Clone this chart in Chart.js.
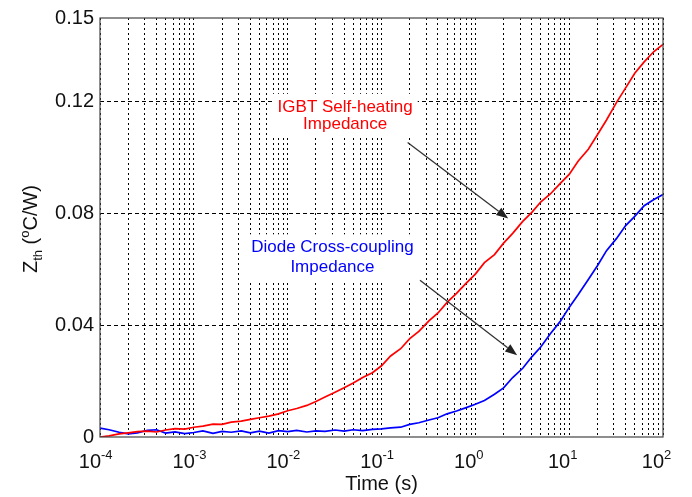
<!DOCTYPE html>
<html>
<head>
<meta charset="utf-8">
<script src="https://cdn.jsdelivr.net/npm/chart.js@4.4.0/dist/chart.umd.min.js"></script>
<style>
  html, body { margin: 0; padding: 0; background: #fff; }
  #wrap { width: 692px; height: 497px; }
</style>
</head>
<body>
<div id="wrap"><canvas id="myChart" width="692" height="497"></canvas></div>
<script>
// Time axis (s), about 10 points per decade
const time = [
  1e-4, 1.25e-4, 1.6e-4, 2e-4, 2.5e-4, 3.2e-4, 4e-4, 5e-4, 6.3e-4, 8e-4,
  1e-3, 1.25e-3, 1.6e-3, 2e-3, 2.5e-3, 3.2e-3, 4e-3, 5e-3, 6.3e-3, 8e-3,
  1e-2, 1.25e-2, 1.6e-2, 2e-2, 2.5e-2, 3.2e-2, 4e-2, 5e-2, 6.3e-2, 8e-2,
  0.1, 0.125, 0.16, 0.2, 0.25, 0.32, 0.4, 0.5, 0.63, 0.8,
  1, 1.25, 1.6, 2, 2.5, 3.2, 4, 5, 6.3, 8,
  10, 12.5, 16, 20, 25, 32, 40, 50, 63, 80,
  100
];

// IGBT self-heating impedance (degC/W)
const igbtZth = [
  0.0000, 0.0004, 0.0011, 0.0015, 0.0019, 0.0021, 0.0018, 0.0025, 0.0030, 0.0028,
  0.0035, 0.0039, 0.0046, 0.0045, 0.0053, 0.0057, 0.0063, 0.0069, 0.0075, 0.0083,
  0.0094, 0.0102, 0.0113, 0.0127, 0.0143, 0.0160, 0.0176, 0.0193, 0.0213, 0.0230,
  0.0255, 0.0290, 0.0316, 0.0352, 0.0378, 0.0416, 0.0444, 0.0482, 0.0514, 0.0551,
  0.0583, 0.0624, 0.0653, 0.0694, 0.0729, 0.0772, 0.0804, 0.0842, 0.0870, 0.0907,
  0.0940, 0.0988, 0.1030, 0.1082, 0.1135, 0.1198, 0.1250, 0.1302, 0.1343, 0.1380,
  0.1405
];

// Diode cross-coupling impedance (degC/W)
const diodeZth = [
  0.0032, 0.0026, 0.0017, 0.0011, 0.0015, 0.0024, 0.0026, 0.0014, 0.0018, 0.0012,
  0.0016, 0.0022, 0.0013, 0.0020, 0.0017, 0.0022, 0.0015, 0.0021, 0.0014, 0.0023,
  0.0019, 0.0024, 0.0018, 0.0022, 0.0020, 0.0025, 0.0021, 0.0026, 0.0023, 0.0027,
  0.0029, 0.0033, 0.0035, 0.0045, 0.0051, 0.0061, 0.0069, 0.0083, 0.0093, 0.0105,
  0.0117, 0.0131, 0.0153, 0.0176, 0.0213, 0.0246, 0.0287, 0.0323, 0.0370, 0.0413,
  0.0464, 0.0510, 0.0564, 0.0613, 0.0667, 0.0711, 0.0757, 0.0790, 0.0828, 0.0850,
  0.0868
];

// Axis ticks
const yTicks = [0, 0.04, 0.08, 0.12, 0.15];
const xDecades = [-4, -3, -2, -1, 0, 1, 2];

// Annotations (data coordinates)
const notes = [
  { lines: ['IGBT Self-heating', 'Impedance'], x: 0.041, y: [0.1182, 0.1118], color: '#ff0000',
    arrow: { from: [0.19, 0.1054], to: [2.24, 0.0782] } },
  { lines: ['Diode Cross-coupling', 'Impedance'], x: 0.030, y: [0.0679, 0.0607], color: '#0000ff',
    arrow: { from: [0.257, 0.0561], to: [2.79, 0.0293] } }
];

const FONT = 'Arial, "Liberation Sans", sans-serif';

const toPoints = (ys) => time.map((t, i) => ({ x: t, y: ys[i] }));

// Draw box, custom tick labels, axis titles and annotations
const decoPlugin = {
  id: 'deco',
  afterDatasetsDraw(chart) {
    const ctx = chart.ctx;
    const xs = chart.scales.x, ys = chart.scales.y;
    const a = chart.chartArea;
    ctx.save();

    // annotation boxes + text
    ctx.font = '17px ' + FONT;
    ctx.textAlign = 'center';
    ctx.textBaseline = 'middle';
    notes.forEach(n => {
      const cx = xs.getPixelForValue(n.x);
      const py = n.y.map(v => ys.getPixelForValue(v));
      const w = Math.max(...n.lines.map(l => ctx.measureText(l).width)) + 10;
      ctx.fillStyle = '#fff';
      ctx.fillRect(cx - w / 2, py[0] - 13, w, py[1] - py[0] + 26);
      ctx.fillStyle = n.color;
      n.lines.forEach((l, i) => ctx.fillText(l, cx, py[i]));

      // arrow
      const x1 = xs.getPixelForValue(n.arrow.from[0]), y1 = ys.getPixelForValue(n.arrow.from[1]);
      const x2 = xs.getPixelForValue(n.arrow.to[0]), y2 = ys.getPixelForValue(n.arrow.to[1]);
      const ang = Math.atan2(y2 - y1, x2 - x1);
      const hl = 12, hw = 4.5;
      ctx.strokeStyle = '#333';
      ctx.fillStyle = '#222';
      ctx.lineWidth = 1.3;
      ctx.beginPath();
      ctx.moveTo(x1, y1);
      ctx.lineTo(x2 - hl * Math.cos(ang), y2 - hl * Math.sin(ang));
      ctx.stroke();
      ctx.beginPath();
      ctx.moveTo(x2, y2);
      ctx.lineTo(x2 - hl * Math.cos(ang) + hw * Math.sin(ang), y2 - hl * Math.sin(ang) - hw * Math.cos(ang));
      ctx.lineTo(x2 - hl * Math.cos(ang) - hw * Math.sin(ang), y2 - hl * Math.sin(ang) + hw * Math.cos(ang));
      ctx.closePath();
      ctx.fill();
    });

    // plot box
    ctx.strokeStyle = '#444';
    ctx.lineWidth = 1.2;
    ctx.strokeRect(a.left, a.top, a.right - a.left, a.bottom - a.top);

    // x tick labels 10^n
    ctx.fillStyle = '#111';
    xDecades.forEach(e => {
      const px = xs.getPixelForValue(Math.pow(10, e));
      ctx.textBaseline = 'alphabetic';
      ctx.font = '20px ' + FONT;
      ctx.textAlign = 'right';
      ctx.fillText('10', px + 1, 468);
      ctx.font = '13px ' + FONT;
      ctx.textAlign = 'left';
      ctx.fillText(e < 0 ? '-' + (-e) : String(e), px + 1, 459);
    });

    // x title
    ctx.font = '20px ' + FONT;
    ctx.textAlign = 'center';
    ctx.textBaseline = 'middle';
    ctx.fillText('Time (s)', (a.left + a.right) / 2, 484);

    // y title: Z_th (°C/W)
    ctx.translate(30, 229);
    ctx.rotate(-Math.PI / 2);
    const parts = [
      { t: 'Z', f: 20, dy: 0 },
      { t: 'th', f: 13, dy: 5 },
      { t: ' (', f: 20, dy: 0 },
      { t: 'o', f: 13, dy: -8 },
      { t: 'C/W)', f: 20, dy: 0 }
    ];
    let total = 0;
    parts.forEach(p => { ctx.font = p.f + 'px ' + FONT; p.w = ctx.measureText(p.t).width; total += p.w; });
    let x = -total / 2;
    ctx.textAlign = 'left';
    ctx.textBaseline = 'alphabetic';
    parts.forEach(p => {
      ctx.font = p.f + 'px ' + FONT;
      ctx.fillText(p.t, x, 7 + p.dy);
      x += p.w;
    });
    ctx.restore();
  }
};

const data = {
  datasets: [
    {
      label: 'IGBT Self-heating Impedance',
      data: toPoints(igbtZth),
      borderColor: '#ff0000',
      borderWidth: 1.7,
      pointRadius: 0,
      tension: 0
    },
    {
      label: 'Diode Cross-coupling Impedance',
      data: toPoints(diodeZth),
      borderColor: '#0000ff',
      borderWidth: 1.7,
      pointRadius: 0,
      tension: 0
    }
  ]
};

const config = {
  type: 'line',
  data,
  options: {
    responsive: false,
    animation: false,
    layout: { padding: { left: 0, right: 29, top: 15, bottom: 0 } },
    plugins: { legend: { display: false }, tooltip: { enabled: false } },
    scales: {
      x: {
        type: 'logarithmic',
        min: 1e-4,
        max: 1e2,
        afterBuildTicks: (scale) => {
          const t = [];
          for (let e = -4; e < 2; e++) {
            for (let k = 1; k < 10; k++) t.push({ value: k * Math.pow(10, e) });
          }
          t.push({ value: 100 });
          scale.ticks = t;
        },
        afterFit: (scale) => { scale.height = 60; },
        ticks: { display: false },
        grid: {
          color: '#000',
          lineWidth: 1,
          drawTicks: false
        },
        border: { display: false, dash: [2, 3] }
      },
      y: {
        min: 0,
        max: 0.15,
        afterBuildTicks: (scale) => { scale.ticks = yTicks.map(v => ({ value: v })); },
        afterFit: (scale) => { scale.width = 100; },
        ticks: {
          color: '#111',
          padding: 6,
          font: { size: 20, family: FONT },
          callback: (v) => (v === 0 ? '0' : v.toFixed(2))
        },
        grid: {
          color: (c) => (c.tick && (c.tick.value === 0 || c.tick.value === 0.15) ? 'rgba(0,0,0,0)' : '#000'),
          lineWidth: 1,
          drawTicks: false
        },
        border: { display: false, dash: [4, 3] }
      }
    }
  },
  plugins: [decoPlugin]
};

const myChart = new Chart(document.getElementById('myChart'), config);
</script>
</body>
</html>
